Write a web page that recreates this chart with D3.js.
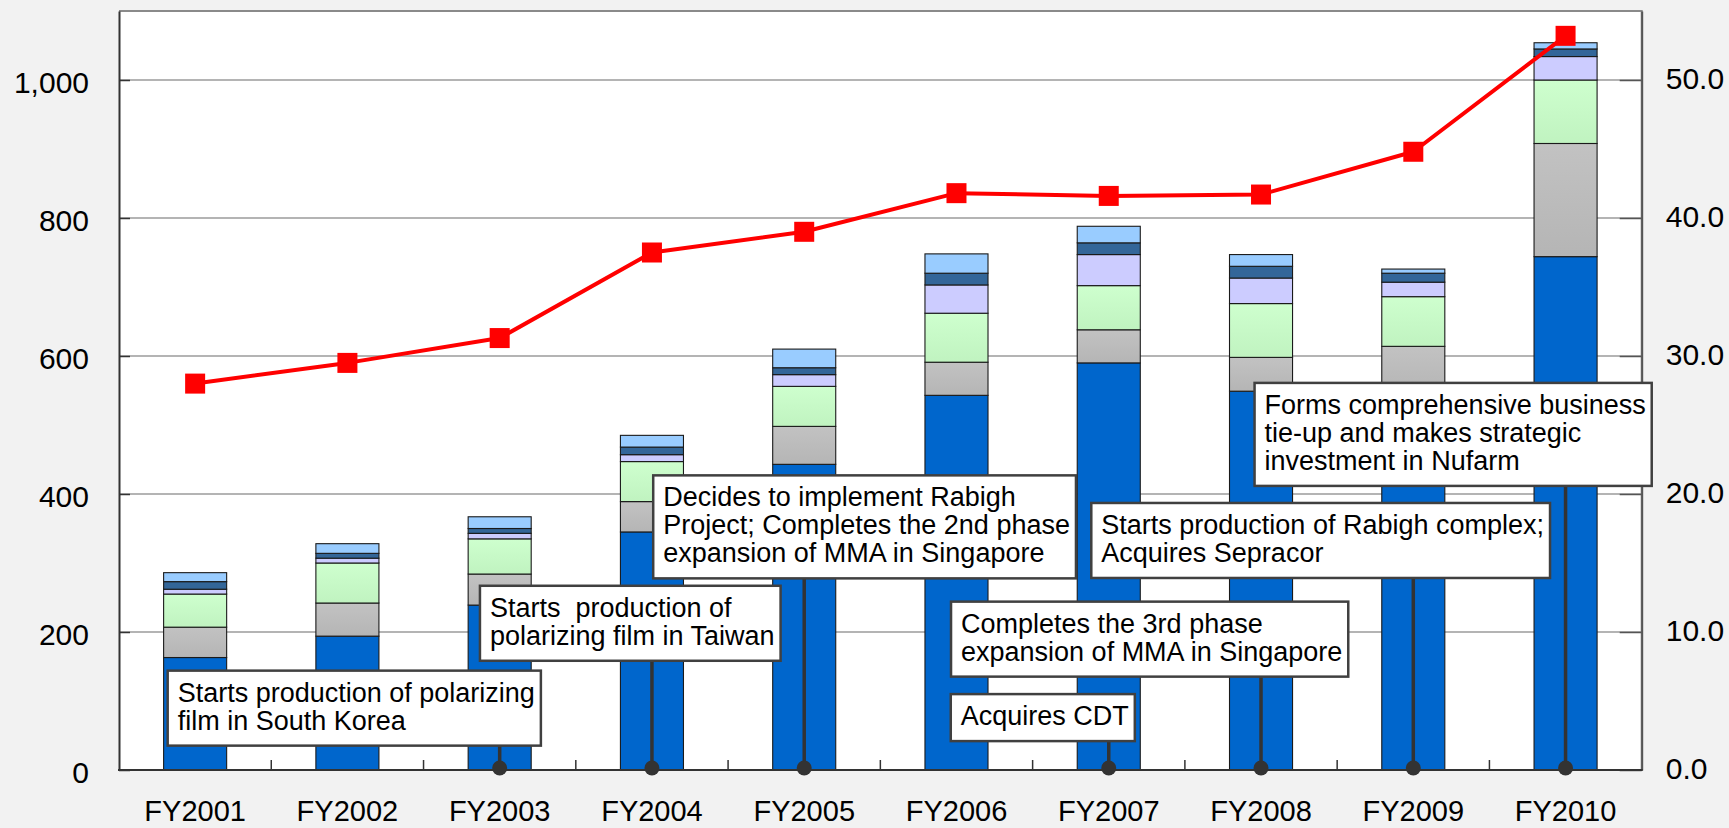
<!DOCTYPE html>
<html>
<head>
<meta charset="utf-8">
<script src="https://cdn.jsdelivr.net/npm/d3@7/dist/d3.min.js"></script>
<style>
  html, body { margin: 0; padding: 0; background: #F2F2F2; }
  svg { display: block; font-family: "Liberation Sans", Arial, sans-serif; }
</style>
</head>
<body>
<svg id="chart" width="1729" height="828"></svg>
<script>
// ---------- DATA ----------
const categories = ["FY2001","FY2002","FY2003","FY2004","FY2005","FY2006","FY2007","FY2008","FY2009","FY2010"];
const seriesBlue      = [163, 194, 239, 345, 443, 543, 590, 549, 545, 744];
const seriesGray      = [ 44,  48,  45,  44,  55,  48,  48,  49,  69, 164];
const seriesGreen     = [ 48,  58,  51,  58,  58,  71,  64,  78,  72,  92];
const seriesLavender  = [  7,   7,   8,  10,  17,  41,  45,  37,  21,  34];
const seriesDarkBlue  = [ 11,   7,   7,  11,  10,  17,  17,  17,  13,  11];
const seriesLightBlue = [ 13,  14,  17,  17,  27,  28,  24,  17,   6,   9];
const lineValues      = [28.0, 29.5, 31.3, 37.5, 39.0, 41.8, 41.6, 41.7, 44.8, 53.2];
const leftTicks  = [0, 200, 400, 600, 800, 1000];
const rightTicks = [0, 10, 20, 30, 40, 50];

const eventCats  = ["FY2003","FY2004","FY2005","FY2008","FY2007","FY2009","FY2010"];
const eventTexts = [
  ["Starts production of polarizing", "film in South Korea"],
  ["Starts  production of", "polarizing film in Taiwan"],
  ["Decides to implement Rabigh", "Project; Completes the 2nd phase", "expansion of MMA in Singapore"],
  ["Completes the 3rd phase", "expansion of MMA in Singapore"],
  ["Acquires CDT"],
  ["Starts production of Rabigh complex;", "Acquires Sepracor"],
  ["Forms comprehensive business", "tie-up and makes strategic", "investment in Nufarm"]
];

// ---------- LAYOUT / STYLE ----------
const seriesKeys = ["blue","gray","green","lavender","darkBlue","lightBlue"];
const seriesFill = {blue:"#0066CC", gray:"url(#gGray)", green:"url(#gGreen)", lavender:"#CCCCFF", darkBlue:"#336699", lightBlue:"#99CCFF"};
// box placement: horizontal offset (px) of box left from anchor centre, top in left-axis units
const eventLayout = [
  {dx:-332, top:144},
  {dx:-172, top:267},
  {dx:-151, top:427},
  {dx:-310, top:244},
  {dx:-158, top:110},
  {dx:-322, top:387},
  {dx:-311, top:561}
];

const plot = {left:119, right:1641.7, top:11, bottom:770};
const svg = d3.select("#chart");

const defs = svg.append("defs");
function vgrad(id, c1, c2){
  const g = defs.append("linearGradient").attr("id", id).attr("x1",0).attr("y1",0).attr("x2",0).attr("y2",1);
  g.append("stop").attr("offset","0%").attr("stop-color", c1);
  g.append("stop").attr("offset","100%").attr("stop-color", c2);
}
vgrad("gGray", "#C2C2C2", "#B5B5B5");
vgrad("gGreen", "#CEFFCE", "#C0F3C0");

// plot background
svg.append("rect").attr("x", plot.left).attr("y", plot.top)
  .attr("width", plot.right - plot.left).attr("height", plot.bottom - plot.top)
  .attr("fill", "#FFFFFF");

// scales
const x = d3.scaleBand().domain(categories).range([plot.left, plot.right])
  .paddingInner(0.586).paddingOuter(0.293);
const y = d3.scaleLinear().domain([0, 1100]).range([plot.bottom, plot.top]);
const y2 = d3.scaleLinear().domain([0, 55]).range([plot.bottom, plot.top]);
const cx = c => x(c) + x.bandwidth() / 2;

// gridlines
svg.append("g").selectAll("line").data(leftTicks.filter(d => d > 0)).join("line")
  .attr("x1", plot.left).attr("x2", plot.right)
  .attr("y1", d => y(d)).attr("y2", d => y(d))
  .attr("stroke", "#6A6A6A").attr("stroke-width", 1.2);

// stacked bars
const rows = categories.map((c, i) => ({
  cat: c, blue: seriesBlue[i], gray: seriesGray[i], green: seriesGreen[i],
  lavender: seriesLavender[i], darkBlue: seriesDarkBlue[i], lightBlue: seriesLightBlue[i]
}));
const stacked = d3.stack().keys(seriesKeys)(rows);
svg.append("g").selectAll("g").data(stacked).join("g")
  .attr("fill", d => seriesFill[d.key])
  .selectAll("rect").data(d => d).join("rect")
  .attr("x", d => x(d.data.cat)).attr("width", x.bandwidth())
  .attr("y", d => y(d[1])).attr("height", d => y(d[0]) - y(d[1]))
  .attr("stroke", "#1A1A1A").attr("stroke-width", 1.1);

// plot border (top / right grey)
svg.append("path")
  .attr("d", `M${plot.left},${plot.top}H${plot.right}V${plot.bottom}`)
  .attr("fill", "none").attr("stroke", "#8A8A8A").attr("stroke-width", 2);

// left axis
const gL = svg.append("g").attr("transform", `translate(${plot.left},0)`)
  .call(d3.axisLeft(y).tickValues(leftTicks).tickFormat(d3.format(",")).tickSizeInner(-11).tickSizeOuter(0).tickPadding(30));
gL.select(".domain").attr("stroke", "#333").attr("stroke-width", 2);
gL.selectAll(".tick line").attr("stroke", "#333").attr("stroke-width", 1.5);
gL.selectAll(".tick text").attr("font-size", 30).attr("fill", "#000").attr("dy", "0.43em")
  .attr("font-family", "'Liberation Sans', Arial, sans-serif");

// right axis
const gR = svg.append("g").attr("transform", `translate(${plot.right},0)`)
  .call(d3.axisRight(y2).tickValues(rightTicks).tickFormat(d3.format(".1f")).tickSizeInner(-22).tickSizeOuter(0).tickPadding(24));
gR.select(".domain").attr("stroke", "#555").attr("stroke-width", 2);
gR.selectAll(".tick line").attr("stroke", "#555").attr("stroke-width", 1.5);
gR.selectAll(".tick text").attr("font-size", 30).attr("fill", "#000").attr("dy", "0.28em")
  .attr("font-family", "'Liberation Sans', Arial, sans-serif");

// bottom axis (labels)
const gB = svg.append("g").attr("transform", `translate(0,${plot.bottom})`)
  .call(d3.axisBottom(x).tickSize(0).tickPadding(0));
gB.select(".domain").remove();
gB.selectAll(".tick text").attr("font-size", 29).attr("fill", "#000").attr("y", 51).attr("dy", 0)
  .attr("font-family", "'Liberation Sans', Arial, sans-serif");
// category boundary ticks (inside)
const bounds = categories.slice(1).map(c => x(c) - x.step() * x.paddingInner() / 2);
svg.append("g").selectAll("line").data(bounds).join("line")
  .attr("x1", d => d).attr("x2", d => d).attr("y1", plot.bottom).attr("y2", plot.bottom - 10)
  .attr("stroke", "#333").attr("stroke-width", 1.5);
svg.append("line").attr("x1", plot.left - 1).attr("x2", plot.right + 1)
  .attr("y1", plot.bottom).attr("y2", plot.bottom)
  .attr("stroke", "#333").attr("stroke-width", 2);

// red line + markers
const line = d3.line().x((d, i) => cx(categories[i])).y(d => y2(d));
svg.append("path").datum(lineValues).attr("d", line)
  .attr("fill", "none").attr("stroke", "#FF0000").attr("stroke-width", 4).attr("stroke-linejoin", "round");
svg.append("g").selectAll("rect").data(lineValues).join("rect")
  .attr("x", (d, i) => cx(categories[i]) - 10).attr("y", d => y2(d) - 10)
  .attr("width", 20).attr("height", 20).attr("fill", "#FF0000");

// annotations
const fontAnn = 27, lineH = 28, pad = 10;
const ann = svg.append("g");
const leaders = ann.append("g");
const boxes = ann.append("g");
eventCats.forEach((c, i) => {
  const lay = eventLayout[i];
  const lines = eventTexts[i];
  const left = cx(c) + lay.dx;
  const top = y(lay.top);
  const h = 19 + lineH * lines.length;
  leaders.append("line").attr("x1", cx(c)).attr("x2", cx(c))
    .attr("y1", top + h).attr("y2", plot.bottom - 2)
    .attr("stroke", "#333").attr("stroke-width", 3.5);
  leaders.append("circle").attr("cx", cx(c)).attr("cy", plot.bottom - 2).attr("r", 7.5).attr("fill", "#333");
  const g = boxes.append("g");
  const rect = g.append("rect").attr("x", left).attr("y", top).attr("height", h)
    .attr("fill", "#FFFFFF").attr("stroke", "#404040").attr("stroke-width", 2.5);
  const t = g.append("text").attr("font-size", fontAnn).attr("fill", "#000")
    .attr("xml:space", "preserve").style("white-space", "pre");
  let maxW = 0;
  lines.forEach((s, k) => {
    const ts = t.append("tspan").attr("x", left + pad).attr("y", top + 31 + k * lineH).text(s);
    maxW = Math.max(maxW, ts.node().getComputedTextLength());
  });
  rect.attr("width", maxW + 2 * pad - 4);
});
</script>
</body>
</html>
